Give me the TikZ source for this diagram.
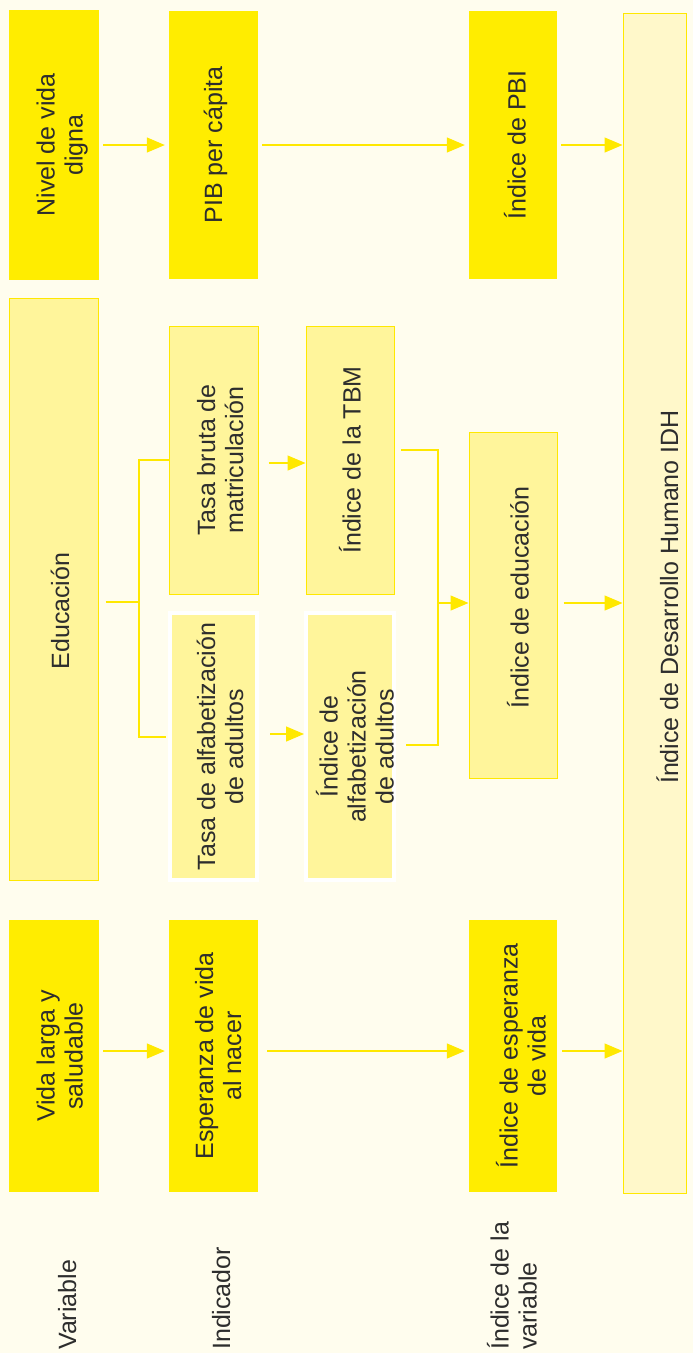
\documentclass[tikz,border=0pt]{standalone}
\usepackage{fontspec}
\setmainfont{Liberation Sans}
\usetikzlibrary{arrows.meta}
\definecolor{cream}{RGB}{255,253,238}
\definecolor{strongyellow}{RGB}{255,237,0}
\definecolor{paleyellow}{RGB}{255,245,155}
\definecolor{lightyellow}{RGB}{255,248,202}
\definecolor{lineyellow}{RGB}{255,232,0}
\definecolor{darktext}{RGB}{45,45,45}
% rotated text, optional shift to the right
\newcommand{\vtext}[2][0pt]{\makebox[0pt]{\hspace*{#1}\hspace*{#1}\rotatebox{90}{\begin{tabular}{@{}c@{}}#2\end{tabular}}}}

\begin{document}
\begin{tikzpicture}[x=1pt, y=-1pt, > = {Triangle[length=18pt,width=15pt]},
	every node/.style={inner sep=0pt, text=darktext, font=\fontsize{25}{28}\selectfont},
	strongbox/.style={fill=strongyellow, draw=none},
	palebox/.style={fill=paleyellow, draw=lineyellow, line width=1pt},
	whitebox/.style={fill=paleyellow, draw=white, line width=4pt},
	idhbox/.style={fill=lightyellow, draw=lineyellow, line width=1pt},
	link/.style={draw=lineyellow, line width=1.3pt}]
	% background
	\fill[cream] (0,0) rectangle (693,1353);
	\useasboundingbox (0,0) rectangle (693,1353);

	% variables
	\node[strongbox, minimum width=90pt, minimum height=270pt] (nivel) at (54,145) {\vtext[9pt]{Nivel de vida\\digna}};
	\node[palebox, minimum width=89pt, minimum height=582pt] (educ) at (53.5,589) {\vtext[10pt]{Educación\hspace*{44pt}}};
	\node[strongbox, minimum width=90pt, minimum height=272pt] (vida) at (54,1056) {\vtext[9pt]{Vida larga y\\saludable}};

	% indicators
	\node[strongbox, minimum width=89pt, minimum height=268pt] (pib) at (213.5,145) {\vtext[3pt]{PIB per cápita}};
	\node[palebox, minimum width=89pt, minimum height=268pt] (tasab) at (213.5,460) {\vtext[10pt]{Tasa bruta de\\matriculación}};
	\node[whitebox, minimum width=87pt, minimum height=267pt] (tasaa) at (213.5,746.5) {\vtext[10pt]{Tasa de alfabetización\\de adultos}};
	\node[strongbox, minimum width=89pt, minimum height=272pt] (esper) at (213.5,1056) {\vtext[8pt]{Esperanza de vida\\al nacer}};
	\node[palebox, minimum width=88pt, minimum height=268pt] (indtbm) at (350,460) {\vtext[4pt]{Índice de la TBM}};
	\node[whitebox, minimum width=88pt, minimum height=267pt] (indalf) at (350,746.5) {\vtext[9pt]{Índice de\\alfabetización\\de adultos}};

	% indices
	\node[strongbox, minimum width=88pt, minimum height=268pt] (indpbi) at (513,145) {\vtext[6pt]{Índice de PBI}};
	\node[palebox, minimum width=88pt, minimum height=346pt] (indedu) at (513,605) {\vtext[9pt]{\hspace*{15pt}Índice de educación}};
	\node[strongbox, minimum width=88pt, minimum height=272pt] (indesp) at (513,1056) {\vtext[12pt]{Índice de esperanza\\de vida}};
	\node[idhbox, minimum width=63pt, minimum height=1180pt] (idh) at (654.5,603) {\vtext[17pt]{\hspace*{12pt}Índice de Desarrollo Humano IDH}};

	% row labels
	\node[rotate=90, anchor=base west] (lvar) at (76,1350) {Variable};
	\node[rotate=90, anchor=base west] (lind) at (230,1350) {Indicador};
	\node[rotate=90, anchor=west, align=left] (lidx) at (512,1350) {Índice de la\\variable};

	% first row
	\draw[link,->,shorten <=4pt,shorten >=4pt] (nivel.east) -- (pib.west);
	\draw[link,->,shorten <=4pt,shorten >=4pt] (pib.east) -- (indpbi.west);
	\draw[link,->,shorten <=4pt] (indpbi.east) -- (idh.west |- indpbi.east);

	% last row
	\coordinate (r3) at ([yshift=5pt]indesp.east);
	\draw[link,->,shorten <=4pt,shorten >=4pt] ([yshift=5pt]vida.east) -- ([yshift=5pt]esper.west);
	\draw[link,->,shorten <=9pt,shorten >=4pt] ([yshift=5pt]esper.east) -- ([yshift=5pt]indesp.west);
	\draw[link,->,shorten <=5pt] (r3) -- (idh.west |- r3);

	% education branch
	\coordinate (lbr) at (139,602);
	\coordinate (lbrbot) at (139,737);
	\coordinate (rbr) at (438,603);
	\draw[link,shorten <=7pt] (educ.east |- lbr) -- (lbr);
	\draw[link,shorten >=2pt] (tasab.west) -| (lbrbot) -- (tasaa.west |- lbrbot);
	\draw[link,->,shorten <=10pt] ([yshift=-3pt]tasab.east) -- ([yshift=-3pt]indtbm.west);
	\draw[link,->,shorten <=11pt] ([yshift=12.5pt]tasaa.east) -- ([yshift=12.5pt]indalf.west);
	\draw[link,shorten <=6pt,shorten >=10pt] ([yshift=10pt]indtbm.east) -| (rbr) |- ([yshift=1.5pt]indalf.east);
	\draw[link,->] (rbr) -- (indedu.west |- rbr);
	\draw[link,->,shorten <=6pt] (indedu.east |- rbr) -- (idh.west |- rbr);
\end{tikzpicture}
\end{document}
